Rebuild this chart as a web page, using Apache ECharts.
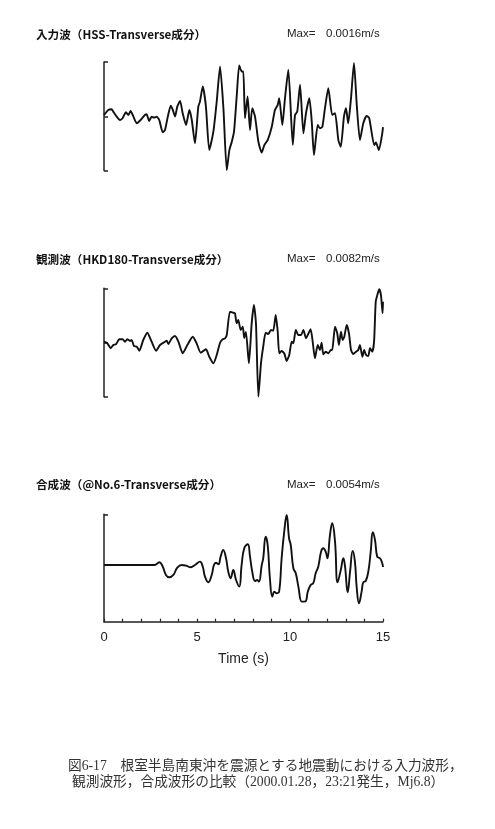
<!DOCTYPE html>
<html><head><meta charset="utf-8">
<script src="https://cdn.jsdelivr.net/npm/echarts@6/dist/echarts.min.js"></script>
<style>html,body{margin:0;padding:0;background:#fff}#c{width:495px;height:829px}</style>
</head><body><div id="c"></div>
<script>
// ---- data (amplitudes normalised to each panel's Max value) ----
const panelTitles = ['入力波（HSS-Transverse成分）', '観測波（HKD180-Transverse成分）', '合成波（@No.6-Transverse成分）'];
const maxLabels = ['0.0016m/s', '0.0082m/s', '0.0054m/s'];
const timeTickLabels = [0, 5, 10, 15];
const xAxisTitle = 'Time (s)';
const captionLines = ['図6-17　根室半島南東沖を震源とする地震動における入力波形，', '観測波形，合成波形の比較（2000.01.28，23:21発生，Mj6.8）'];

const time1 = [0,0.23,0.41,0.50,0.645,0.86,1.0,1.18,1.31,1.43,1.58,1.76,1.97,2.20,2.29,2.43,2.56,2.69,2.83,2.97,3.16,3.28,3.43,3.59,3.70,3.82,3.94,4.09,4.23,4.41,4.59,4.72,4.89,5.07,5.16,5.31,5.48,5.66,5.88,6.06,6.24,6.42,6.60,6.74,6.87,6.99,7.14,7.27,7.40,7.49,7.58,7.72,7.85,7.97,8.12,8.30,8.48,8.62,8.80,9.02,9.19,9.34,9.42,9.59,9.73,9.91,10.15,10.27,10.39,10.54,10.72,10.86,11.04,11.17,11.29,11.49,11.61,11.74,11.88,12.06,12.27,12.42,12.60,12.73,12.90,13.01,13.13,13.28,13.44,13.59,13.76,13.94,14.12,14.26,14.53,14.62,14.78,14.96,15.0];
const amp1 = [0.02,0.117,0.13,0.085,0.011,-0.069,-0.037,0.074,0.024,0.098,-0.007,-0.13,-0.069,0.024,0.037,-0.087,-0.007,-0.026,-0.007,-0.069,-0.296,-0.254,-0.007,0.196,0.117,-0.007,0.178,0.283,0.056,-0.161,0.117,-0.069,-0.5,0.178,0.27,0.548,0.178,-0.624,-0.285,0.27,0.919,0.148,-0.994,-0.624,-0.47,-0.285,0.394,0.937,0.826,0.826,-0.037,0.363,-0.254,0.148,-0.007,-0.47,-0.667,-0.531,-0.439,-0.193,0.117,0.209,0.333,-0.161,0.333,0.857,-0.531,0.024,0.085,0.58,-0.315,0.056,0.333,-0.1,-0.717,-0.161,-0.222,-0.193,0.148,0.519,0.024,0.056,-0.439,-0.563,-0.007,0.148,-0.13,0.333,0.981,0.209,-0.439,-0.13,0.006,-0.037,-0.531,-0.481,-0.624,-0.315,-0.2];

const time2 = [0,0.18,0.36,0.50,0.645,0.82,1.0,1.13,1.25,1.40,1.49,1.61,1.76,1.90,2.11,2.33,2.56,2.80,3.01,3.28,3.37,3.46,3.64,3.82,4.0,4.23,4.48,4.77,4.98,5.20,5.48,5.66,5.88,6.06,6.24,6.38,6.51,6.60,6.77,6.92,7.04,7.13,7.22,7.35,7.46,7.54,7.63,7.79,7.94,8.06,8.17,8.30,8.44,8.56,8.69,8.83,8.98,9.10,9.23,9.34,9.42,9.55,9.69,9.82,9.96,10.09,10.18,10.31,10.45,10.59,10.72,10.86,10.98,11.11,11.22,11.34,11.49,11.61,11.70,11.79,11.92,12.06,12.20,12.27,12.42,12.54,12.63,12.74,12.83,12.92,13.05,13.17,13.28,13.40,13.55,13.67,13.76,13.89,13.99,14.09,14.21,14.30,14.42,14.52,14.61,14.72,14.80,14.89,14.98,15.0];
const amp2 = [0.015,-0.015,-0.107,-0.046,-0.033,0.059,0.059,0.015,0.059,0.028,0.046,-0.065,-0.077,-0.151,0.046,0.181,0.015,-0.151,-0.046,0.015,0.033,-0.028,0.077,0.12,0.015,-0.199,-0.046,0.107,-0.015,-0.188,-0.125,-0.262,-0.384,-0.231,-0.004,0.059,0.077,0.138,0.568,0.55,0.539,0.354,0.415,0.231,0.292,0.083,0.194,-0.384,0.354,0.692,0.354,-1.0,-0.384,-0.077,0.181,0.157,0.231,0.218,0.507,0.199,-0.199,-0.157,-0.199,-0.341,-0.231,0.015,-0.015,0.231,0.138,0.138,0.231,0.077,0.157,0.244,0.015,-0.292,-0.046,-0.138,-0.004,-0.218,-0.17,-0.199,-0.138,-0.138,0.292,0.17,-0.046,0.199,0.046,0.107,0.323,0.17,-0.138,-0.212,-0.17,-0.138,-0.046,-0.262,-0.138,-0.231,-0.249,-0.107,-0.17,0.015,0.753,0.908,0.982,0.876,0.539,0.75];

const time3 = [0,2.74,2.97,3.16,3.33,3.51,3.73,3.94,4.18,4.41,4.66,4.89,5.16,5.31,5.43,5.61,5.79,5.91,6.02,6.15,6.27,6.41,6.56,6.68,6.81,6.95,7.10,7.27,7.40,7.54,7.73,7.85,7.97,8.12,8.24,8.33,8.48,8.56,8.69,8.80,8.92,9.05,9.16,9.28,9.41,9.55,9.69,9.82,9.95,10.04,10.18,10.31,10.45,10.63,10.75,10.86,10.95,11.11,11.25,11.38,11.52,11.67,11.79,11.92,12.01,12.15,12.27,12.42,12.56,12.73,12.87,12.96,13.10,13.23,13.37,13.49,13.59,13.71,13.85,13.94,14.07,14.21,14.34,14.45,14.57,14.69,14.84,14.96,15.0];
const amp3 = [0,0,0.053,-0.034,-0.197,-0.243,-0.197,-0.053,0,-0.014,-0.045,0,0.065,-0.034,-0.231,-0.341,-0.197,0,0.045,0.014,0.164,0.296,0.132,-0.132,-0.262,-0.099,-0.296,-0.428,0,0.329,0.408,0.164,-0.132,-0.316,-0.296,-0.329,0,0.132,0.558,0.394,-0.262,-0.625,-0.527,-0.558,-0.538,0.132,0.657,0.986,0.527,0.394,-0.065,-0.164,-0.428,-0.724,-0.724,-0.71,-0.538,-0.394,-0.361,-0.164,-0.034,0.262,0.329,0.262,0.132,0.592,0.822,0.46,-0.341,-0.099,0.132,-0.034,-0.538,-0.132,0.276,0.065,-0.46,-0.755,-0.527,-0.341,-0.316,-0.132,0.262,0.645,0.493,0.164,0.132,0.034,-0.04];

const zip = (t, a) => t.map((x, i) => [x, a[i]]);

const chart = echarts.init(document.getElementById('c'), null, {renderer: 'canvas'});
const axisColor = '#222';
const lineColor = '#111';

const grids = [
  {left: 104, width: 279, top: 62, height: 108.5},
  {left: 104, width: 279, top: 288.3, height: 108.4},
  {left: 104, width: 279, top: 514.3, height: 107.4}
];
const titleY = [34.3, 259.3, 485];

function xAxisFor(i) {
  const last = i === 2;
  return {
    type: 'value', gridIndex: i, min: 0, max: 15, interval: 1,
    show: true,
    axisLine: {show: last, onZero: false, lineStyle: {color: axisColor, width: 1.5}},
    axisTick: {show: last, inside: true, length: 3, lineStyle: {color: axisColor, width: 1.2}},
    axisLabel: {show: last, margin: 9, color: '#222', fontSize: 13, fontFamily: 'Liberation Sans, Arial, sans-serif',
      formatter: v => timeTickLabels.indexOf(v) >= 0 ? String(v) : ''},
    splitLine: {show: false},
    name: last ? xAxisTitle : '', nameLocation: 'middle', nameGap: 30,
    nameTextStyle: {color: '#222', fontSize: 14, fontFamily: 'Liberation Sans, Arial, sans-serif'}
  };
}
function yAxisFor(i) {
  const last = i === 2;
  return {
    type: 'value', gridIndex: i, min: last ? -1.12 : -1, max: 1,
    axisLine: {show: true, onZero: false, lineStyle: {color: axisColor, width: 1.5}},
    axisTick: {show: true, inside: true, length: 4, customValues: last ? [0, 1] : [-1, 0, 1], lineStyle: {color: axisColor, width: 1.5}},
    axisLabel: {show: false},
    splitLine: {show: false}
  };
}

const graphics = [];
panelTitles.forEach((t, i) => {
  graphics.push({type: 'text', x: 36, y: titleY[i], style: {text: t, fill: '#111', font: 'bold 11.6px "Noto Sans CJK JP", sans-serif', textVerticalAlign: 'middle'}});
  graphics.push({type: 'text', x: 287, y: titleY[i], style: {text: 'Max=', fill: '#222', font: '11.5px "Liberation Sans", Arial, sans-serif', textVerticalAlign: 'middle'}});
  graphics.push({type: 'text', x: 326, y: titleY[i], style: {text: maxLabels[i], fill: '#222', font: '11.5px "Liberation Sans", Arial, sans-serif', textVerticalAlign: 'middle'}});
});
graphics.push({type: 'text', x: 68, y: 766, style: {text: captionLines[0], fill: '#333', font: '13.7px "Liberation Serif", "Noto Sans CJK JP", serif', textVerticalAlign: 'middle'}});
graphics.push({type: 'text', x: 72, y: 782.5, style: {text: captionLines[1], fill: '#333', font: '13.7px "Liberation Serif", "Noto Sans CJK JP", serif', textVerticalAlign: 'middle'}});

const series = [zip(time1, amp1), zip(time2, amp2), zip(time3, amp3)].map((d, i) => ({
  type: 'line', xAxisIndex: i, yAxisIndex: i, data: d, showSymbol: false,
  smooth: i === 2 ? 0.45 : 0.2, animation: false, clip: true,
  lineStyle: {color: lineColor, width: 1.9}
}));

chart.setOption({
  animation: false,
  backgroundColor: '#fff',
  grid: grids,
  xAxis: [0, 1, 2].map(xAxisFor),
  yAxis: [0, 1, 2].map(yAxisFor),
  series: series,
  graphic: graphics
});
</script></body></html>
